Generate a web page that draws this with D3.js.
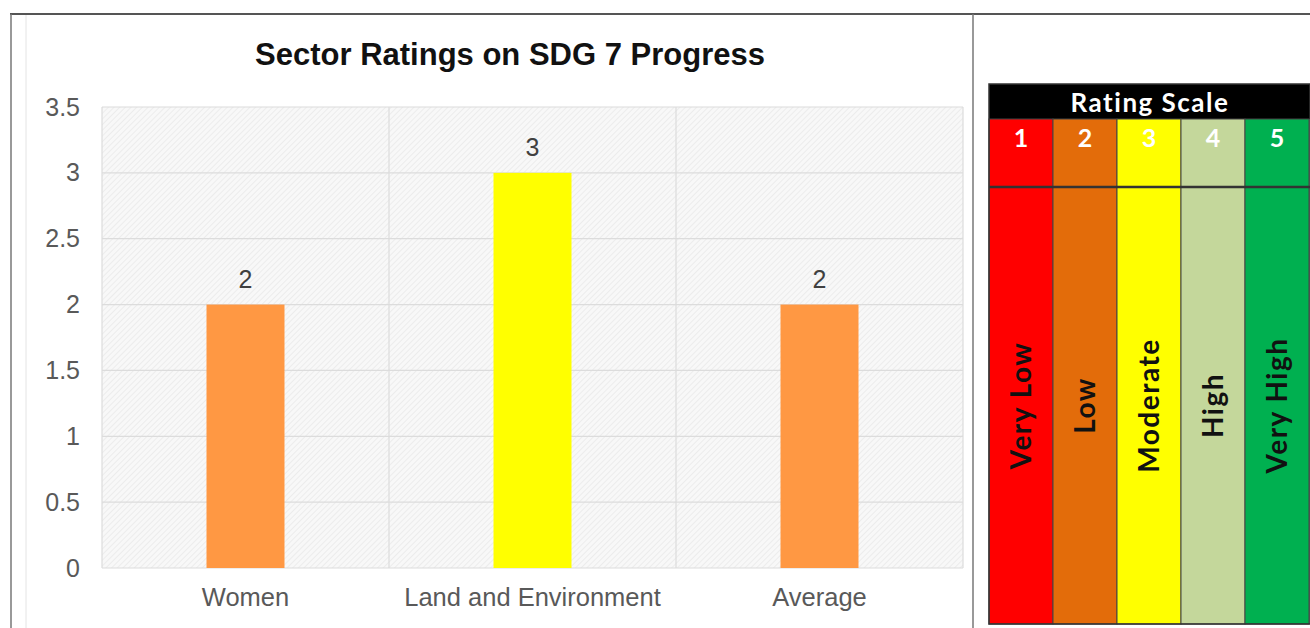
<!DOCTYPE html>
<html>
<head>
<meta charset="utf-8">
<script src="https://cdn.jsdelivr.net/npm/d3@7"></script>
<style>
  body { margin: 0; background: #fff; }
  svg { display: block; }
</style>
</head>
<body>
<div id="app"></div>
<script>
const WIDTH = 1310
const HEIGHT = 628

// chart data
const categories = ['Women', 'Land and Environment', 'Average']
const ratings = [2, 3, 2]
const barColors = ['#FF9843', '#FFFF00', '#FF9843']
const yTicks = [0, 0.5, 1, 1.5, 2, 2.5, 3, 3.5]

// rating scale legend
const scaleLevels = ['1', '2', '3', '4', '5']
const scaleNames = ['Very Low', 'Low', 'Moderate', 'High', 'Very High']
const scaleColors = ['#FF0000', '#E36C0A', '#FFFF00', '#C4D79B', '#00B050']

const svg = d3.select('#app').append('svg')
  .attr('width', WIDTH)
  .attr('height', HEIGHT)

// hatch pattern for the plot background
const defs = svg.append('defs')
const pat = defs.append('pattern')
  .attr('id', 'hatch')
  .attr('width', 4)
  .attr('height', 4)
  .attr('patternUnits', 'userSpaceOnUse')
  .attr('patternTransform', 'rotate(45)')
pat.append('rect').attr('width', 4).attr('height', 4).attr('fill', '#f8f8f8')
pat.append('line').attr('x1', 0).attr('y1', 0).attr('x2', 0).attr('y2', 4)
  .attr('stroke', '#e8e8e8').attr('stroke-width', 1.5)

// outer frame
svg.append('line').attr('x1', 10).attr('x2', WIDTH).attr('y1', 14).attr('y2', 14)
  .attr('stroke', '#555').attr('stroke-width', 2)
svg.append('line').attr('x1', 11).attr('x2', 11).attr('y1', 14).attr('y2', HEIGHT)
  .attr('stroke', '#777').attr('stroke-width', 1.5)
svg.append('line').attr('x1', 26).attr('x2', 26).attr('y1', 15).attr('y2', HEIGHT)
  .attr('stroke', '#e4e4e4').attr('stroke-width', 1)
svg.append('line').attr('x1', 973).attr('x2', 973).attr('y1', 14).attr('y2', HEIGHT)
  .attr('stroke', '#777').attr('stroke-width', 1.5)

// bar chart
const plot = { left: 102, right: 963, top: 107, bottom: 568 }
const FONT = 'Liberation Sans, Arial, sans-serif'

const x = d3.scaleBand()
  .domain(categories)
  .range([plot.left, plot.right])
  .paddingInner(0)
  .paddingOuter(0)

const y = d3.scaleLinear()
  .domain([0, 3.5])
  .range([plot.bottom, plot.top])

svg.append('rect')
  .attr('x', plot.left)
  .attr('y', plot.top)
  .attr('width', plot.right - plot.left)
  .attr('height', plot.bottom - plot.top)
  .attr('fill', 'url(#hatch)')

const grid = svg.append('g').attr('class', 'grid')
grid.selectAll('line.h')
  .data(yTicks)
  .enter().append('line')
  .attr('class', 'h')
  .attr('x1', plot.left).attr('x2', plot.right)
  .attr('y1', d => y(d)).attr('y2', d => y(d))
  .attr('stroke', '#dcdcdc').attr('stroke-width', 1.2)

const vBounds = categories.map(c => x(c)).concat([plot.right])
grid.selectAll('line.v')
  .data(vBounds)
  .enter().append('line')
  .attr('class', 'v')
  .attr('x1', d => d).attr('x2', d => d)
  .attr('y1', plot.top).attr('y2', plot.bottom)
  .attr('stroke', '#dcdcdc').attr('stroke-width', 1.2)

const yAxis = d3.axisLeft(y)
  .tickValues(yTicks)
  .tickSize(0)
  .tickPadding(22)
  .tickFormat(d3.format('~g'))

svg.append('g')
  .attr('transform', 'translate(' + plot.left + ',0)')
  .call(yAxis)
  .call(g => g.select('.domain').remove())
  .selectAll('text')
  .attr('font-family', FONT)
  .attr('font-size', 25)
  .attr('fill', '#595959')

const xAxis = d3.axisBottom(x)
  .tickSize(0)
  .tickPadding(20)

svg.append('g')
  .attr('transform', 'translate(0,' + plot.bottom + ')')
  .call(xAxis)
  .call(g => g.select('.domain').remove())
  .selectAll('text')
  .attr('font-family', FONT)
  .attr('font-size', 25.5)
  .attr('fill', '#595959')

const barW = 78
const rows = categories.map((c, i) => ({ cat: c, value: ratings[i], color: barColors[i] }))

svg.selectAll('rect.bar')
  .data(rows)
  .enter().append('rect')
  .attr('class', 'bar')
  .attr('x', d => x(d.cat) + x.bandwidth() / 2 - barW / 2)
  .attr('y', d => y(d.value))
  .attr('width', barW)
  .attr('height', d => y(0) - y(d.value))
  .attr('fill', d => d.color)

svg.selectAll('text.val')
  .data(rows)
  .enter().append('text')
  .attr('class', 'val')
  .attr('x', d => x(d.cat) + x.bandwidth() / 2)
  .attr('y', d => y(d.value) - 17)
  .attr('text-anchor', 'middle')
  .attr('font-family', FONT)
  .attr('font-size', 25)
  .attr('fill', '#404040')
  .text(d => d.value)

svg.append('text')
  .attr('x', 510)
  .attr('y', 65)
  .attr('text-anchor', 'middle')
  .attr('font-family', FONT)
  .attr('font-weight', 'bold')
  .attr('font-size', 31)
  .attr('fill', '#111')
  .text('Sector Ratings on SDG 7 Progress')

// rating scale table
const tbl = { left: 989, right: 1310, top: 84, head: 119, mid: 187, bottom: 624 }
const LFONT = 'Lato, sans-serif'
const sx = d3.scaleBand()
  .domain(scaleLevels)
  .range([tbl.left, tbl.left + 64 * 5])

const legend = svg.append('g').attr('class', 'legend')

legend.append('rect')
  .attr('x', tbl.left).attr('y', tbl.top)
  .attr('width', tbl.right - tbl.left).attr('height', tbl.head - tbl.top)
  .attr('fill', '#000')

legend.append('text')
  .attr('x', tbl.left + 161)
  .attr('y', 112)
  .attr('text-anchor', 'middle')
  .attr('font-family', LFONT)
  .attr('font-weight', 'bold')
  .attr('font-size', 26)
  .attr('letter-spacing', 1.5)
  .attr('fill', '#fff')
  .text('Rating Scale')

const cols = scaleLevels.map((l, i) => ({ level: l, name: scaleNames[i], color: scaleColors[i] }))

const col = legend.selectAll('g.col')
  .data(cols)
  .enter().append('g')
  .attr('class', 'col')

col.append('rect')
  .attr('x', d => sx(d.level))
  .attr('y', tbl.head)
  .attr('width', sx.bandwidth())
  .attr('height', tbl.bottom - tbl.head)
  .attr('fill', d => d.color)
  .attr('stroke', '#444')
  .attr('stroke-width', 1)

col.append('text')
  .attr('x', d => sx(d.level) + sx.bandwidth() / 2)
  .attr('y', 147)
  .attr('text-anchor', 'middle')
  .attr('font-family', LFONT)
  .attr('font-weight', 'bold')
  .attr('font-size', 25)
  .attr('fill', '#fff')
  .text(d => d.level)

col.append('text')
  .attr('transform', d => 'translate(' + (sx(d.level) + sx.bandwidth() / 2 + 10) + ',' + ((tbl.mid + tbl.bottom) / 2) + ') rotate(-90)')
  .attr('text-anchor', 'middle')
  .attr('font-family', LFONT)
  .attr('font-weight', 'bold')
  .attr('font-size', 28)
  .attr('letter-spacing', 1.5)
  .attr('fill', '#111')
  .text(d => d.name)

legend.append('line')
  .attr('x1', tbl.left).attr('x2', tbl.right)
  .attr('y1', tbl.mid).attr('y2', tbl.mid)
  .attr('stroke', '#333').attr('stroke-width', 2.5)

legend.append('rect')
  .attr('x', tbl.left).attr('y', tbl.top)
  .attr('width', tbl.right - tbl.left).attr('height', tbl.bottom - tbl.top)
  .attr('fill', 'none').attr('stroke', '#333').attr('stroke-width', 1.5)
</script>
</body>
</html>
